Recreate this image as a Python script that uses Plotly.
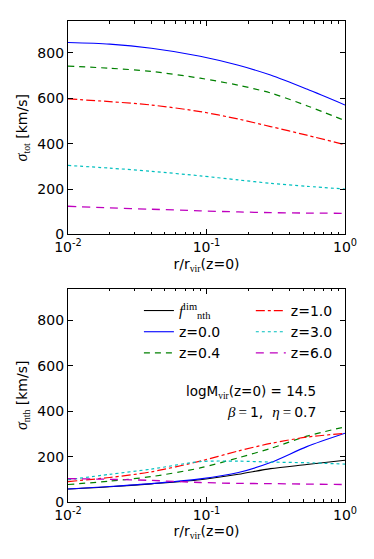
import plotly.graph_objects as go

# ---- data ----
r = [0.01, 0.02, 0.04, 0.09, 0.17, 0.29, 0.53, 1.0]

tot_z00 = [845, 838, 820, 785, 745, 702, 640, 570]
tot_z04 = [741, 732, 718, 688, 657, 623, 567, 501]
tot_z10 = [597, 585, 570, 541, 508, 475, 437, 395]
tot_z30 = [304, 292, 278, 258, 240, 225, 212, 200]
tot_z60 = [124, 117, 111, 104, 99, 96, 94, 93]

nth_lim = [57, 67, 80, 98, 122, 147, 165, 184]
nth_z00 = [57, 68, 81, 102, 130, 174, 244, 303]
nth_z04 = [77, 92, 112, 150, 195, 236, 290, 331]
nth_z10 = [90, 108, 133, 180, 225, 258, 286, 302]
nth_z30 = [98, 122, 145, 178, 180, 176, 173, 167]
nth_z60 = [103, 100, 95, 86, 82, 81, 79, 77]

x_tickvals = [0.01, 0.1, 1.0]
x_ticktext = ["10<sup>-2</sup>", "10<sup>-1</sup>", "10<sup>0</sup>"]
y_tickvals = [0, 200, 400, 600, 800]

SERIF = "Liberation Serif"
FONT = "DejaVu Sans"

styles = {
    "lim": dict(color="black", dash="solid", width=1.1),
    "z00": dict(color="#0000ff", dash="solid", width=1.1),
    "z04": dict(color="#008000", dash="6px,5px", width=1.2),
    "z10": dict(color="#ff0000", dash="dashdot", width=1.2),
    "z30": dict(color="#00bfbf", dash="dot", width=1.2),
    "z60": dict(color="#bf00bf", dash="8px,6px", width=1.3),
}

fig = go.Figure()

def add(y, key, xa, ya, name=None, legend=None):
    fig.add_trace(go.Scatter(
        x=r, y=y, mode="lines", line=dict(shape="spline", smoothing=0.8, **styles[key]),
        xaxis=xa, yaxis=ya, name=name, showlegend=name is not None,
        legend=legend, hoverinfo="skip"))

# top panel
add(tot_z00, "z00", "x", "y")
add(tot_z04, "z04", "x", "y")
add(tot_z10, "z10", "x", "y")
add(tot_z30, "z30", "x", "y")
add(tot_z60, "z60", "x", "y")

# bottom panel
flim = ("<span style='font-family:%s;font-size:15px'><i>f</i><sup>lim</sup><sub>nth</sub></span>" % SERIF)
add(nth_lim, "lim", "x2", "y2", flim, "legend")
add(nth_z00, "z00", "x2", "y2", "z=0.0", "legend")
add(nth_z04, "z04", "x2", "y2", "z=0.4", "legend")
add(nth_z10, "z10", "x2", "y2", "z=1.0", "legend2")
add(nth_z30, "z30", "x2", "y2", "z=3.0", "legend2")
add(nth_z60, "z60", "x2", "y2", "z=6.0", "legend2")

minor_vals = [k * 10.0 ** e for e in (-2, -1) for k in range(2, 10)]

def xaxis(anchor):
    return dict(
        type="log", range=[-2, 0], anchor=anchor, automargin=False,
        tickmode="array", tickvals=x_tickvals, ticktext=x_ticktext,
        ticks="inside", ticklen=5, tickcolor="black", tickwidth=1,
        minor=dict(tickmode="array", tickvals=minor_vals, ticks="inside",
                   ticklen=2.5, tickcolor="black", showgrid=False),
        showline=True, linecolor="black", linewidth=1.2, mirror="ticks",
        showgrid=False, zeroline=False,
        tickfont=dict(family=FONT, size=14, color="black"),
        title=dict(text="r/r<sub><span style='font-family:%s'>vir</span></sub>(z=0)" % SERIF,
                   font=dict(family=FONT, size=14, color="black"), standoff=4),
    )

def yaxis(anchor, domain, sub):
    return dict(
        range=[0, 940], domain=domain, anchor=anchor, automargin=False,
        tickmode="array", tickvals=y_tickvals,
        ticks="inside", ticklen=5, tickcolor="black", tickwidth=1,
        showline=True, linecolor="black", linewidth=1.2, mirror="ticks",
        showgrid=False, zeroline=False,
        tickfont=dict(family=FONT, size=14, color="black"),
        title=dict(text="<span style='font-family:%s;font-size:16px'><i>σ</i></span><sub><span style='font-family:%s'>%s</span></sub> [km/s]" % (SERIF, SERIF, sub),
                   font=dict(family=FONT, size=14, color="black"), standoff=6),
    )

# the page body has an 8px default margin, so the figure is 8px smaller
fig.update_layout(
    width=366, height=551,
    margin=dict(l=60, r=29, t=13, b=57, autoexpand=False),
    paper_bgcolor="white", plot_bgcolor="white",
    xaxis=xaxis("y"),
    yaxis=yaxis("x", [0.5563, 1.0], "tot"),
    xaxis2=xaxis("y2"),
    yaxis2=yaxis("x2", [0.0, 0.4435], "nth"),
    legend=dict(x=0.256, y=0.4305, xanchor="left", yanchor="top",
                bgcolor="rgba(0,0,0,0)", borderwidth=0,
                font=dict(family=FONT, size=14, color="black"), tracegroupgap=0),
    legend2=dict(x=0.66, y=0.4305, xanchor="left", yanchor="top",
                 bgcolor="rgba(0,0,0,0)", borderwidth=0,
                 font=dict(family=FONT, size=14, color="black"), tracegroupgap=0),
    annotations=[
        dict(text="logM<sub><span style='font-family:%s'>vir</span></sub>(z=0) = 14.5" % SERIF,
             xref="paper", yref="paper", x=0.903, y=0.229, xanchor="right", yanchor="middle",
             showarrow=False, font=dict(family=FONT, size=13.5, color="black")),
        dict(text="<span style='font-family:%s;font-size:15px'><i>β</i>\u2009=\u2009</span>1,  <span style='font-family:%s;font-size:15px'><i>η</i>\u2009=\u2009</span>0.7" % (SERIF, SERIF),
             xref="paper", yref="paper", x=0.903, y=0.187, xanchor="right", yanchor="middle",
             showarrow=False, font=dict(family=FONT, size=14, color="black")),
    ],
)

fig.write_html("out.html")
